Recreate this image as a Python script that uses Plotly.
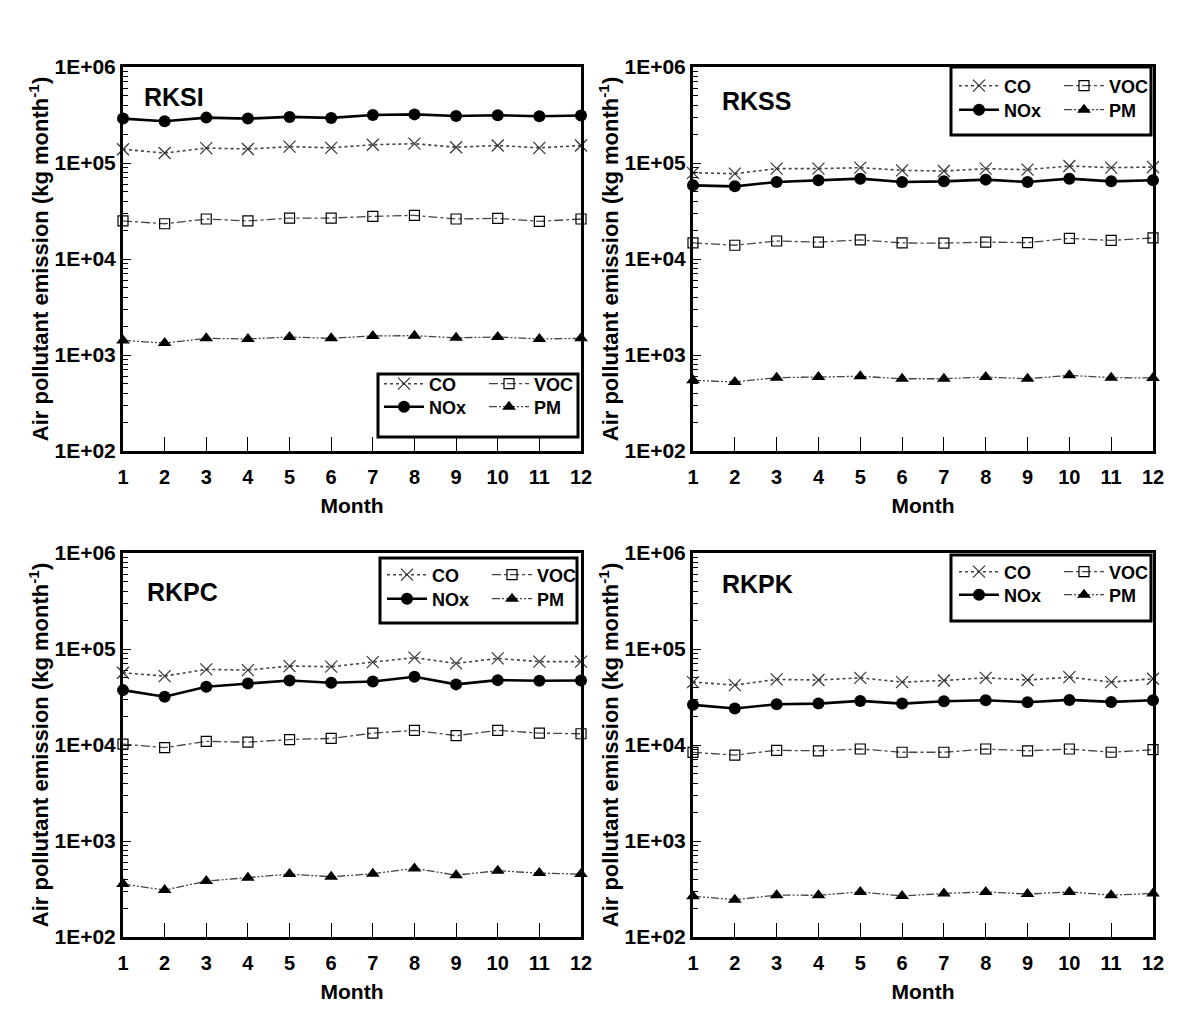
import plotly.graph_objects as go

W, H = 1197, 1015
FONT = "Liberation Sans, Arial, sans-serif"

months = list(range(1, 13))
month_labels = [str(m) for m in months]
panel_names = ["RKSI", "RKSS", "RKPC", "RKPK"]
species = ["CO", "NOx", "VOC", "PM"]
ytick_vals = [1e2, 1e3, 1e4, 1e5, 1e6]
ytick_text = ["1E+02", "1E+03", "1E+04", "1E+05", "1E+06"]

# RKSI
rksi_co = [1.39e5, 1.27e5, 1.43e5, 1.40e5, 1.48e5, 1.44e5, 1.55e5, 1.59e5, 1.46e5, 1.52e5, 1.44e5, 1.52e5]
rksi_nox = [2.90e5, 2.72e5, 2.97e5, 2.90e5, 3.02e5, 2.95e5, 3.16e5, 3.21e5, 3.09e5, 3.14e5, 3.07e5, 3.12e5]
rksi_voc = [2.49e4, 2.33e4, 2.61e4, 2.49e4, 2.67e4, 2.67e4, 2.78e4, 2.85e4, 2.61e4, 2.65e4, 2.47e4, 2.61e4]
rksi_pm = [1.42e3, 1.33e3, 1.49e3, 1.47e3, 1.54e3, 1.49e3, 1.58e3, 1.59e3, 1.51e3, 1.54e3, 1.47e3, 1.49e3]
# RKSS
rkss_co = [7.90e4, 7.74e4, 8.73e4, 8.73e4, 8.94e4, 8.39e4, 8.25e4, 8.73e4, 8.52e4, 9.31e4, 8.94e4, 9.08e4]
rkss_nox = [5.85e4, 5.71e4, 6.34e4, 6.60e4, 6.87e4, 6.34e4, 6.44e4, 6.71e4, 6.34e4, 6.87e4, 6.44e4, 6.60e4]
rkss_voc = [1.47e4, 1.39e4, 1.54e4, 1.50e4, 1.58e4, 1.47e4, 1.46e4, 1.50e4, 1.48e4, 1.64e4, 1.56e4, 1.66e4]
rkss_pm = [545, 524, 581, 590, 600, 566, 566, 590, 566, 614, 581, 577]
# RKPC
rkpc_co = [5.66e4, 5.22e4, 6.13e4, 6.03e4, 6.64e4, 6.54e4, 7.31e4, 8.12e4, 7.08e4, 7.98e4, 7.38e4, 7.38e4]
rkpc_nox = [3.73e4, 3.18e4, 4.04e4, 4.38e4, 4.70e4, 4.45e4, 4.59e4, 5.14e4, 4.28e4, 4.74e4, 4.67e4, 4.70e4]
rkpc_voc = [1.02e4, 9.38e3, 1.09e4, 1.07e4, 1.14e4, 1.17e4, 1.33e4, 1.42e4, 1.25e4, 1.42e4, 1.33e4, 1.31e4]
rkpc_pm = [356, 308, 382, 414, 452, 424, 456, 518, 441, 490, 463, 452]
# RKPK
rkpk_co = [4.52e4, 4.21e4, 4.82e4, 4.75e4, 5.01e4, 4.52e4, 4.70e4, 5.01e4, 4.75e4, 5.09e4, 4.52e4, 4.90e4]
rkpk_nox = [2.62e4, 2.40e4, 2.66e4, 2.70e4, 2.88e4, 2.70e4, 2.86e4, 2.93e4, 2.79e4, 2.95e4, 2.81e4, 2.93e4]
rkpk_voc = [8.38e3, 7.86e3, 8.80e3, 8.70e3, 9.08e3, 8.40e3, 8.40e3, 9.08e3, 8.70e3, 9.08e3, 8.40e3, 8.93e3]
rkpk_pm = [266, 245, 273, 272, 295, 268, 284, 295, 280, 295, 273, 284]

panel_data = [
    {"CO": rksi_co, "NOx": rksi_nox, "VOC": rksi_voc, "PM": rksi_pm},
    {"CO": rkss_co, "NOx": rkss_nox, "VOC": rkss_voc, "PM": rkss_pm},
    {"CO": rkpc_co, "NOx": rkpc_nox, "VOC": rkpc_voc, "PM": rkpc_pm},
    {"CO": rkpk_co, "NOx": rkpk_nox, "VOC": rkpk_voc, "PM": rkpk_pm},
]

# pixel boxes of plot areas (left, top, right, bottom)
boxes = [(123, 67, 581, 451), (693, 67, 1153, 451), (123, 553, 581, 937), (693, 553, 1153, 937)]
# legend boxes (left, top, right, bottom)
leg_boxes = [(378, 374, 578, 437), (951, 67, 1151, 135), (380, 558, 577, 623), (951, 555, 1151, 621)]
# legend row centres (row1, row2) and column left x
leg_rows = [(384, 407), (86, 110), (575, 599), (572, 595)]
leg_cols = [(379, 484), (954, 1059), (382, 487), (954, 1059)]
# grid position of each species in the legend (column, row)
leg_cell = {"CO": (0, 0), "VOC": (1, 0), "NOx": (0, 1), "PM": (1, 1)}
# panel label positions (left x, center y)
label_pos = [(142, 97), (720, 101), (145, 592), (720, 584)]

styles = {
    "CO": dict(line=dict(color="#444", width=1.6, dash="dot"),
               marker=dict(symbol="x-thin", size=12, line=dict(color="#333", width=1.2), color="#333")),
    "NOx": dict(line=dict(color="black", width=2.6, dash="solid"),
                marker=dict(symbol="circle", size=12, color="black")),
    "VOC": dict(line=dict(color="#444", width=1.3, dash="dashdot"),
                marker=dict(symbol="square-open", size=10, color="black", line=dict(width=1.2))),
    "PM": dict(line=dict(color="#444", width=1.3, dash="8px,2px,2px,2px,2px,2px"),
               marker=dict(symbol="triangle-up", size=12, color="black")),
}

fig = go.Figure()

def px_x(x):
    return x / W

def px_y(y):
    return 1 - y / H

layout = dict(
    width=W, height=H, margin=dict(l=0, r=0, t=0, b=0, autoexpand=False),
    paper_bgcolor="white", plot_bgcolor="white",
    font=dict(family=FONT, color="black", size=18, weight="bold"),
    shapes=[], annotations=[],
)

axfont = dict(family=FONT, size=21, color="black", weight="bold")
leg_index = 0

for i in range(4):
    l, t, r, b = boxes[i]
    xa = "xaxis" if i == 0 else f"xaxis{i+1}"
    ya = "yaxis" if i == 0 else f"yaxis{i+1}"
    xref = "x" if i == 0 else f"x{i+1}"
    yref = "y" if i == 0 else f"y{i+1}"
    layout[xa] = dict(
        domain=[px_x(l), px_x(r)], anchor=yref, range=[1, 12],
        tickvals=months, ticktext=month_labels, ticks="inside", ticklen=14, tickwidth=1,
        tickcolor="black", showline=True, linewidth=3, linecolor="black", mirror=True,
        showgrid=False, zeroline=False, tickfont=dict(family=FONT, size=20, weight="bold"),
        ticklabelstandoff=6,
        title=dict(text="Month", font=axfont, standoff=12),
    )
    minor_vals = [m * 10 ** e for e in range(2, 6) for m in range(2, 10)]
    layout[ya] = dict(
        domain=[px_y(b), px_y(t)], anchor=xref, type="log", range=[2, 6],
        tickvals=ytick_vals, ticktext=ytick_text, ticks="inside", ticklen=8, tickwidth=1,
        tickcolor="black", showline=True, linewidth=3, linecolor="black", mirror=True,
        showgrid=False, zeroline=False, tickfont=dict(family=FONT, size=21, weight="bold"),
        minor=dict(tickvals=minor_vals, ticks="inside", ticklen=5, tickwidth=1, tickcolor="black", showgrid=False),
        title=dict(text="Air pollutant emission (kg month<sup>-1</sup>)",
                   font=dict(family=FONT, size=22, color="black", weight="bold"), standoff=0),
    )
    # legend box
    lb = leg_boxes[i]
    layout["shapes"].append(dict(type="rect", xref="paper", yref="paper",
                                 x0=px_x(lb[0]), x1=px_x(lb[2]), y0=px_y(lb[3]), y1=px_y(lb[1]),
                                 line=dict(color="black", width=3), fillcolor="white", layer="below"))
    # panel label
    lx, ly = label_pos[i]
    layout["annotations"].append(dict(text=panel_names[i], xref="paper", yref="paper",
                                      x=px_x(lx), y=px_y(ly), xanchor="left", yanchor="middle",
                                      showarrow=False, font=dict(family=FONT, size=25, weight="bold")))

    for s in species:
        c, rw = leg_cell[s]
        key = "legend" if leg_index == 0 else f"legend{leg_index + 1}"
        ref = "legend" if leg_index == 0 else f"legend{leg_index + 1}"
        leg_index += 1
        layout[key] = dict(x=px_x(leg_cols[i][c]), y=px_y(leg_rows[i][rw]), xanchor="left", yanchor="middle",
                           bgcolor="rgba(0,0,0,0)", borderwidth=0, itemwidth=40,
                           font=dict(family=FONT, size=18, color="black", weight="bold"),
                           itemsizing="trace")
        fig.add_trace(go.Scatter(
            x=months, y=panel_data[i][s], mode="lines+markers", name=s,
            line=styles[s]["line"], marker=styles[s]["marker"],
            xaxis=xref, yaxis=yref, legend=ref, cliponaxis=False, showlegend=True,
        ))

fig.update_layout(**layout)
fig.write_html("out.html")
